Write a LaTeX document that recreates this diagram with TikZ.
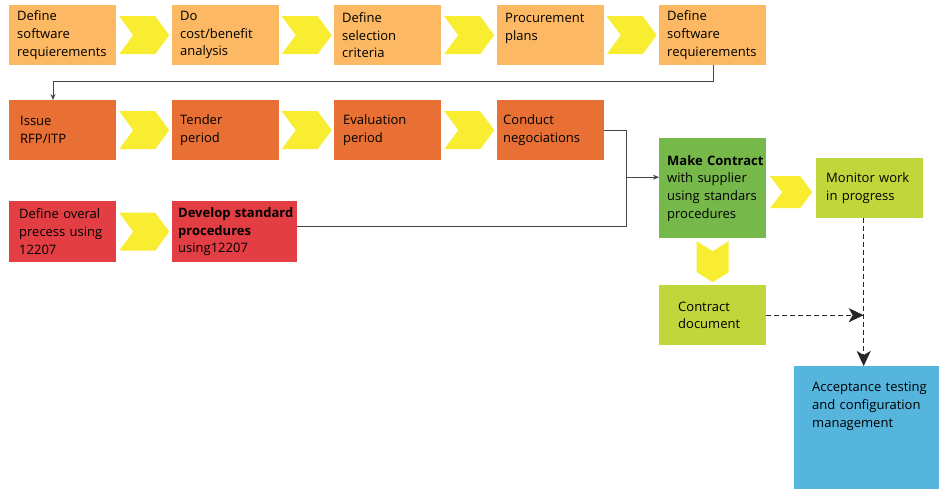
\documentclass[tikz,border=0pt]{standalone}
\usepackage{fontspec}
\setmainfont{Open Sans}
\usetikzlibrary{calc,arrows.meta}

\definecolor{rowone}{RGB}{252,184,98}
\definecolor{rowtwo}{RGB}{232,112,52}
\definecolor{rowthree}{RGB}{226,62,68}
\definecolor{contractgreen}{RGB}{118,184,74}
\definecolor{lightgreen}{RGB}{193,214,58}
\definecolor{acceptblue}{RGB}{86,181,221}
\definecolor{chevyellow}{RGB}{249,237,50}
\definecolor{linkgray}{RGB}{70,70,70}

\newcommand\toptext[3]{\parbox[c][#1][t]{#2}{#3}}

\tikzset{
    pics/chev/.style args={#1/#2/#3}{code={
        \fill[chevyellow] (-#1/2,#2/2) -- (#1/2-#3,#2/2) -- (#1/2,0) -- (#1/2-#3,-#2/2)
            -- (-#1/2,-#2/2) -- (-#1/2+#3,0) -- cycle;
    }}
}

\begin{document}
\begin{tikzpicture}[x=1pt,y=1pt]
    \tikzstyle{stepbox}=[rectangle, anchor=north west, align=left, inner ysep=0pt, inner xsep=8pt,
        text width=91pt, minimum height=60pt, font=\fontsize{13}{17.7}\selectfont]
    \tikzstyle{link}=[draw=linkgray, line width=0.8pt, >={Stealth[length=6pt,width=5pt]}]
    \tikzstyle{dashlink}=[draw=black!85, line width=1.4pt, dash pattern=on 5pt off 3pt,
        -{Stealth[length=15pt,width=14pt,inset=4pt]}]

    \useasboundingbox (0,0) rectangle (939,-488);

    % first row
    \node[stepbox, fill=rowone] (R1-1) at (9,-5) {Define\\software\\requierements};
    \node[stepbox, fill=rowone] (R1-2) at (172,-5) {Do\\cost/benefit\\analysis};
    \node[stepbox, fill=rowone] (R1-3) at (334,-5) {Define\\selection\\criteria};
    \node[stepbox, fill=rowone] (R1-4) at (497,-5) {\toptext{44pt}{91pt}{Procurement\\plans}};
    \node[stepbox, fill=rowone] (R1-5) at (659,-5) {Define\\software\\requierements};

    % second row
    \node[stepbox, fill=rowtwo, inner xsep=11pt, text width=85pt] (R2-1) at (9,-100) {Issue\\RFP/ITP};
    \node[stepbox, fill=rowtwo] (R2-2) at (172,-100) {Tender\\period};
    \node[stepbox, fill=rowtwo, inner xsep=9pt, text width=89pt] (R2-3) at (334,-100) {Evaluation\\period};
    \node[stepbox, fill=rowtwo, inner xsep=6pt, text width=95pt] (R2-4) at (497,-100) {Conduct\\negociations};

    % third row
    \node[stepbox, fill=rowthree, inner xsep=10pt, text width=87pt, minimum height=61pt] (R3-1) at (9,-201)
        {Define overal\\precess using\\12207};
    \node[stepbox, fill=rowthree, inner xsep=6pt, text width=113pt, minimum height=61pt] (R3-2) at (172,-201)
        {\mbox{\textbf{Develop standard}}\\\textbf{procedures}\\using12207};

    % contract part
    \node[stepbox, fill=contractgreen, minimum height=100pt] (contract) at (659,-138)
        {\mbox{\textbf{Make Contract}}\\with supplier\\using standars\\procedures};
    \node[stepbox, fill=lightgreen, inner xsep=10pt, text width=87pt] (monitor) at (816,-158)
        {Monitor work\\in progress};
    \node[stepbox, fill=lightgreen, inner xsep=19pt, text width=69pt] (document) at (659,-285)
        {Contract\\document};
    \node[stepbox, fill=acceptblue, inner xsep=18pt, inner ysep=16pt, text width=125pt, minimum height=0pt] (accept) at (794,-366)
        {\toptext{106pt}{125pt}{Acceptance testing\\and configuration\\management}};

    \foreach \a/\b in {R1-1/R1-2,R1-2/R1-3,R1-3/R1-4,R1-4/R1-5,R2-1/R2-2,R2-2/R2-3,R2-3/R2-4,R3-1/R3-2}
        \pic at ($(\a.east)!0.5!(\b.west)$) {chev=50/38/14};
    \pic at ($(contract.east)!0.5!(monitor.west)+(0,-4)$) {chev=42/32/12};
    \pic[rotate=-90] at ($(contract.south)!0.5!(document.north)$) {chev=41/32/10};

    \draw[link,->] ([xshift=54pt]R1-5.south west) -- ++(0,-16) -| ([xshift=44pt]R2-1.north west);

    \coordinate (merge) at ([xshift=22pt]R2-4.east);
    \coordinate (cin) at ([yshift=11pt]contract.west);
    \draw[link] (R2-4.east) -- (merge) |- ([yshift=5pt]R3-2.east);
    \draw[link,->] (cin -| merge) -- (cin);

    \coordinate (mline) at ([xshift=-6pt]monitor.south);
    \draw[dashlink] (mline) -- (mline |- accept.north);
    \draw[dashlink] (document.east) -- (document.east -| mline);
\end{tikzpicture}
\end{document}
